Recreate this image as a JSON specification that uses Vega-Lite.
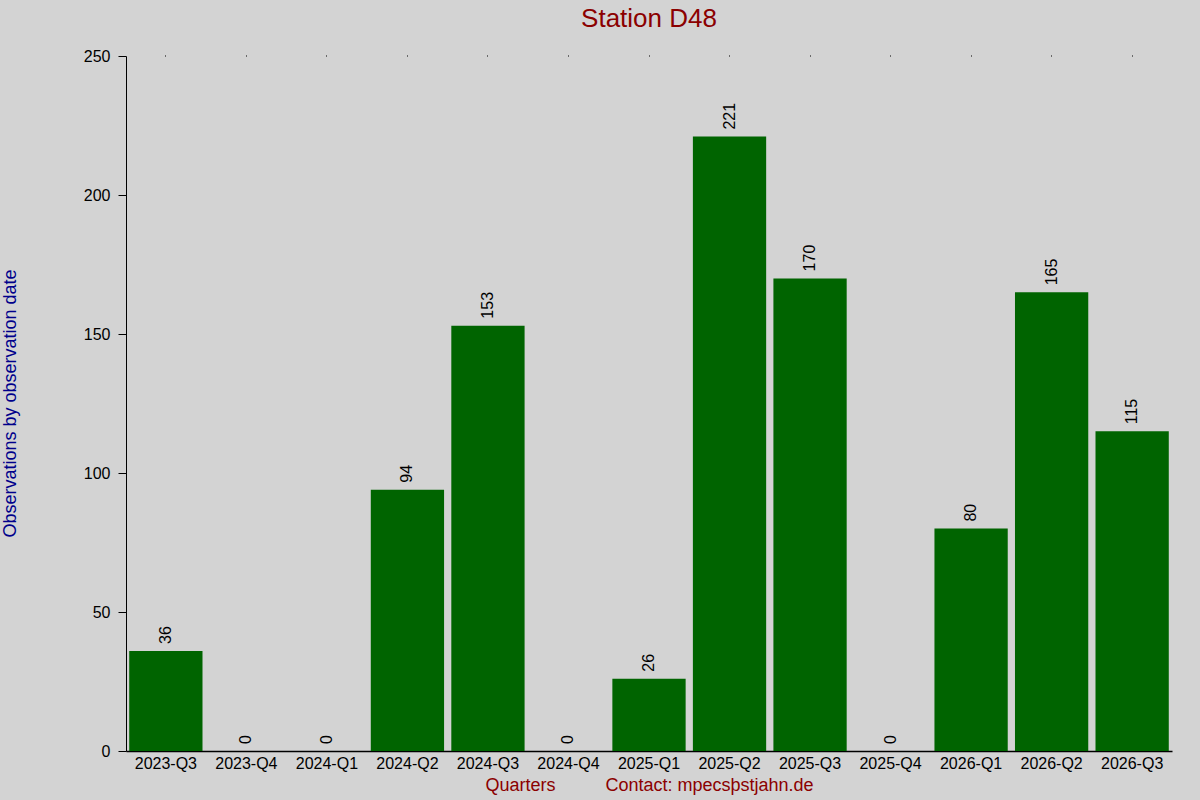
{
  "$schema": "https://vega.github.io/schema/vega-lite/v6.json",
  "background": "#d3d3d3",
  "autosize": {"type": "none"},
  "padding": {"left": 126, "top": 56, "right": 28, "bottom": 49},
  "width": 1046,
  "height": 695,
  "view": {"stroke": null},
  "config": {
    "font": "Liberation Sans",
    "axis": {"labelFont": "Liberation Sans", "titleFont": "Liberation Sans", "grid": false}
  },
  "title": {
    "text": "Station D48",
    "fontSize": 26,
    "fontWeight": "normal",
    "color": "#8b0000",
    "offset": 16,
    "anchor": "middle"
  },
  "data": {
    "values": [
      {"quarter": "2023-Q3", "count": 36},
      {"quarter": "2023-Q4", "count": 0},
      {"quarter": "2024-Q1", "count": 0},
      {"quarter": "2024-Q2", "count": 94},
      {"quarter": "2024-Q3", "count": 153},
      {"quarter": "2024-Q4", "count": 0},
      {"quarter": "2025-Q1", "count": 26},
      {"quarter": "2025-Q2", "count": 221},
      {"quarter": "2025-Q3", "count": 170},
      {"quarter": "2025-Q4", "count": 0},
      {"quarter": "2026-Q1", "count": 80},
      {"quarter": "2026-Q2", "count": 165},
      {"quarter": "2026-Q3", "count": 115}
    ]
  },
  "resolve": {"axis": {"x": "independent"}},
  "layer": [
    {
      "mark": {"type": "bar", "color": "#006400"},
      "encoding": {
        "x": {
          "field": "quarter",
          "type": "ordinal",
          "sort": null,
          "scale": {"paddingInner": 0.09, "paddingOuter": 0.04},
          "axis": {
            "title": "Quarters\u00a0\u00a0\u00a0\u00a0\u00a0\u00a0\u00a0\u00a0\u00a0\u00a0Contact: mpecsþstjahn.de",
            "titleColor": "#8b0000",
            "titleFontSize": 18,
            "titleFontWeight": "normal",
            "titlePadding": 5,
            "labelAngle": 0,
            "labelFontSize": 16,
            "labelColor": "#000000",
            "labelPadding": 4,
            "ticks": false,
            "domainColor": "#000000",
            "domainWidth": 1.5
          }
        },
        "y": {
          "field": "count",
          "type": "quantitative",
          "scale": {"domain": [0, 250], "nice": false},
          "axis": {
            "title": "Observations by observation date",
            "titleColor": "#00008b",
            "titleFontSize": 18,
            "titleFontWeight": "normal",
            "titleX": -116,
            "titleY": 347,
            "titleAngle": -90,
            "titleBaseline": "middle",
            "titleAlign": "center",
            "values": [0, 50, 100, 150, 200, 250],
            "labelFontSize": 16,
            "labelColor": "#000000",
            "labelPadding": 8,
            "tickSize": 8,
            "tickColor": "#000000",
            "domainColor": "#000000"
          }
        }
      }
    },
    {
      "mark": {
        "type": "text",
        "angle": 270,
        "align": "left",
        "baseline": "middle",
        "dx": 7,
        "fontSize": 16,
        "color": "#000000"
      },
      "encoding": {
        "x": {
          "field": "quarter",
          "type": "ordinal",
          "sort": null,
          "axis": {
            "orient": "top",
            "title": null,
            "labels": false,
            "domain": false,
            "tickSize": 1,
            "tickColor": "#000000"
          }
        },
        "y": {"field": "count", "type": "quantitative"},
        "text": {"field": "count", "type": "quantitative"}
      }
    }
  ]
}
